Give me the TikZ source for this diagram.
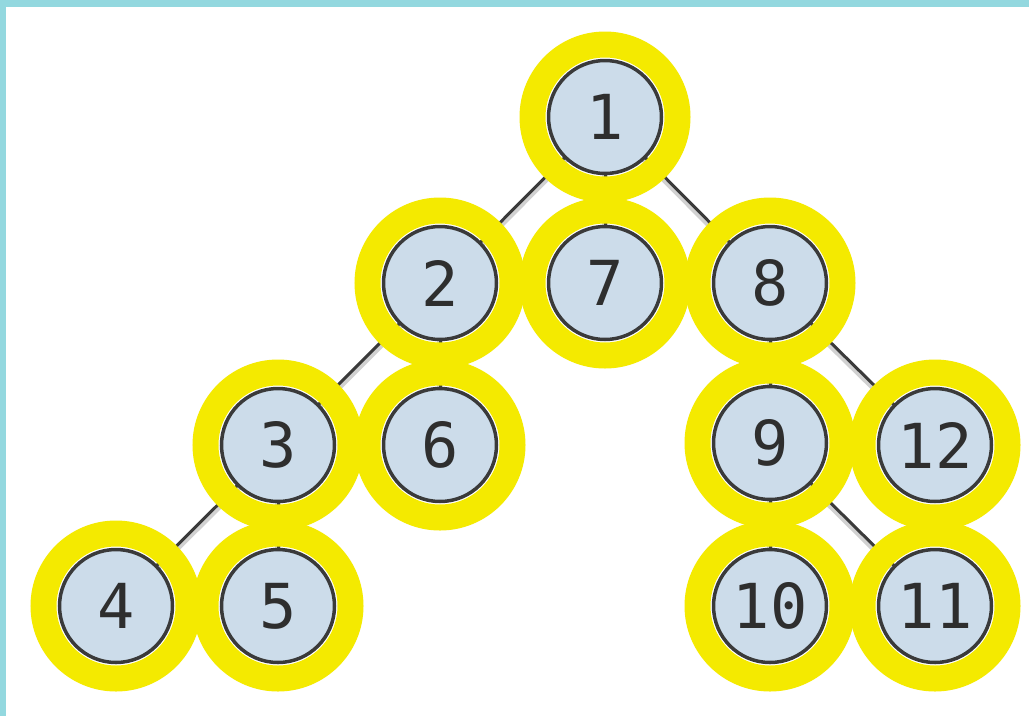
\documentclass[tikz,border=0pt]{standalone}
\usepackage{fontspec}
\setmonofont{DejaVu Sans Mono}
\pgfdeclarelayer{bg}
\pgfsetlayers{bg,main}
\definecolor{teal}{HTML}{93D8DF}
\definecolor{nodefill}{HTML}{CCDCEA}
\definecolor{ringyellow}{HTML}{F4EA00}
\definecolor{edgecol}{HTML}{3A3A3A}
\definecolor{txtcol}{HTML}{2E2E2E}
\tikzset{
  vtx/.style={circle, draw=edgecol, line width=3.5pt, fill=nodefill,
    minimum size=113pt, inner sep=0pt, text=txtcol,
    font=\ttfamily\fontsize{62}{62}\selectfont},
  ring/.style={circle, draw=ringyellow, line width=26pt, minimum size=145pt,
    inner sep=0pt, outer sep=0pt},
  edge/.style={draw=edgecol, line width=3pt},
  edgeshadow/.style={draw=black, opacity=0.18, line width=6pt, transform canvas={yshift=-3pt}}
}
\begin{document}
\begin{tikzpicture}[x=1pt,y=-1pt]
\useasboundingbox (0,0) rectangle (1029,716);

\node[vtx] (n1) at (605,117) {1};
\node[vtx] (n2) at (440,283) {2};
\node[vtx] (n7) at (605,283) {7};
\node[vtx] (n8) at (770,283) {8};
\node[vtx] (n3) at (278,445) {3};
\node[vtx] (n6) at (440,445) {6};
\node[vtx] (n9) at (770,443) {9};
\node[vtx] (n12) at (935,445) {12};
\node[vtx] (n4) at (116,606) {4};
\node[vtx] (n5) at (278,606) {5};
\node[vtx] (n10) at (770,606) {10};
\node[vtx] (n11) at (935,606) {11};

\foreach \n in {n1,n2,n7,n8,n3,n6,n9,n12,n4,n5,n10,n11}
  \node[ring] (r\n) at (\n) {};

\begin{pgfonlayer}{bg}
\fill[white] (0,0) rectangle (1029,716);
\fill[teal] (0,0) rectangle (1029,7);
\fill[teal] (0,0) rectangle (6,716);
\foreach \a/\b in {n1/n2,n1/n7,n1/n8,n2/n3,n2/n6,n3/n4,n3/n5,n8/n9,n8/n12,n9/n10,n9/n11}{
  \draw[edgeshadow] (\a.center) -- (\b.center);
  \draw[edge] (\a.center) -- (\b.center);
}
\end{pgfonlayer}
\end{tikzpicture}
\end{document}
